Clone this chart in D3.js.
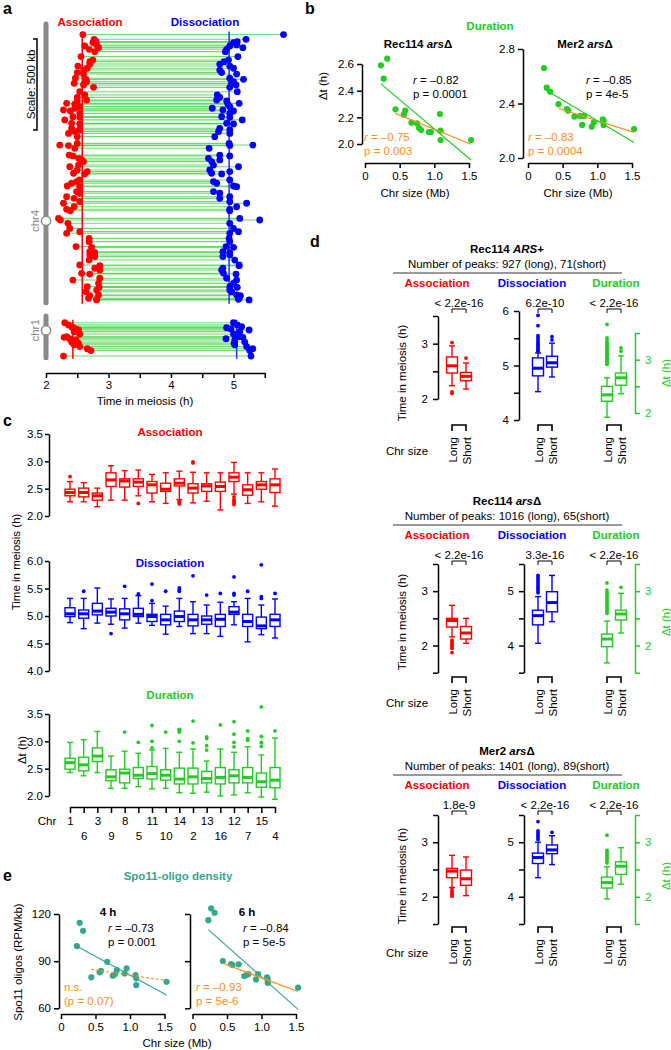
<!DOCTYPE html>
<html>
<head>
<meta charset="utf-8">
<script src="https://cdn.jsdelivr.net/npm/d3@7"></script>
<style>
  body { margin: 0; background: #fff; }
  svg { display: block; }
</style>
</head>
<body>
<script>
const FONT = "'Liberation Sans', Arial, sans-serif"
const RED = '#ff0000', BLUE = '#0000ff', GREEN = '#22cc22', ORANGE = '#ff8c1a', TEAL = '#35a68f', GRAY = '#888'

// ---- panel a: peaks [kb from top of drawn chromosome, association (h), dissociation (h)]
const chr4Peaks = [
  [58,2.59,5.80],[84,2.77,5.20],[97,2.80,5.06],[102,2.75,5.00],[115,2.81,5.05],[121,2.62,4.94],[130,2.84,5.15],
  [139,2.69,4.89],[152,2.78,4.87],[179,2.56,5.07],[198,2.75,4.92],[207,2.70,4.85],[220,2.70,4.78],[231,2.51,4.94],
  [243,2.66,5.00],[253,2.60,4.78],[267,2.50,4.81],[275,2.60,5.05],[298,2.47,4.94],[304,2.64,5.16],[317,2.65,5.00],
  [326,2.45,4.97],[335,2.60,5.04],[348,2.76,4.94],[372,2.54,5.06],[390,2.62,4.74],[403,2.50,4.78],[418,2.65,4.73],
  [423,2.50,4.89],[436,2.33,5.09],[441,2.46,4.91],[454,2.54,4.94],[463,2.46,4.66],[472,2.28,4.83],[478,2.39,5.00],
  [491,2.54,4.94],[509,2.43,4.81],[513,2.54,4.94],[527,2.30,5.14],[546,2.41,4.89],[549,2.54,5.00],[573,2.41,4.78],
  [582,2.53,4.94],[591,2.46,4.76],[601,2.36,4.94],[619,2.50,4.70],[656,2.50,4.93],[665,2.22,5.31],[668,2.36,4.94],
  [683,2.46,4.61],[720,2.37,4.78],[725,2.43,4.94],[738,2.52,4.60],[747,2.57,4.78],[756,2.60,4.65],[775,2.52,4.68],
  [784,2.38,5.08],[802,2.50,4.62],[811,2.66,4.94],[820,2.44,4.65],[824,2.62,4.81],[857,2.54,4.94],[866,2.49,4.68],
  [875,2.41,4.73],[890,2.34,5.00],[894,2.54,5.05],[921,2.49,4.68],[930,2.54,4.78],[949,2.33,4.94],[958,2.45,4.78],
  [976,2.54,4.94],[985,2.28,5.21],[1004,2.45,5.05],[1018,2.33,4.94],[1026,2.39,4.94],[1068,2.20,5.10],[1077,2.23,5.42],
  [1095,2.35,4.94],[1123,2.38,5.00],[1141,2.54,5.08],[1150,2.33,4.94],[1178,2.69,4.93],[1196,2.69,4.94],[1223,2.48,4.88],
  [1227,2.73,5.00],[1251,2.70,4.83],[1256,2.78,4.94],[1269,2.70,4.94],[1278,2.78,4.83],[1297,2.69,5.02],[1324,2.54,5.09],
  [1328,2.86,5.09],[1342,2.78,4.83],[1352,2.86,4.81],[1370,2.57,4.84],[1374,2.70,5.04],[1397,2.86,4.89],[1407,2.43,5.05],
  [1425,2.84,5.00],[1443,2.66,4.94],[1447,2.85,5.06],[1462,2.81,4.94],[1471,2.64,4.97],[1489,2.84,5.05],[1493,2.70,5.11],
  [1507,2.68,5.09],[1513,2.81,5.08],[1516,2.81,5.25]
]
const chr1Peaks = [
  [37,2.30,5.00],[49,2.36,5.06],[59,2.41,5.13],[64,2.43,4.89],[71,2.48,4.96],[77,2.52,5.25],[86,2.45,5.10],
  [99,2.54,5.00],[114,2.33,5.08],[117,2.29,5.15],[125,2.38,4.88],[132,2.48,5.02],[143,2.41,5.18],[150,2.52,5.01],
  [158,2.45,5.02],[168,2.54,5.21],[180,2.66,5.31],[190,2.72,5.26],[220,2.28,5.28]
]
const chrLenKb = { chr4: 1531, chr1: 230 }
const chrCenKb = { chr4: 1082, chr1: 79 }
const chrMedians = { chr4: [2.58, 4.93], chr1: [2.43, 5.05] }
const aTicks = [2, 2.5, 3, 3.5, 4, 4.5, 5, 5.5]

// ---- chromosomes ordered by size
const chrNames = ['1','6','3','9','8','5','11','10','14','2','13','16','12','7','15','4']
const chrSizeMb = [0.23,0.27,0.32,0.44,0.56,0.58,0.67,0.75,0.78,0.81,0.92,0.95,1.08,1.09,1.09,1.53]

// ---- panel b: duration (h) per chromosome
const durRec114 = [2.59,2.49,2.64,2.26,2.22,2.25,2.16,2.155,2.12,2.105,2.09,2.09,2.225,2.10,2.03,2.03]
const durMer2 = [2.66,2.517,2.487,2.395,2.358,2.348,2.304,2.309,2.243,2.309,2.23,2.262,2.284,2.274,2.243,2.213]
// fits [slope, intercept]: all chromosomes / excluding the 3 smallest
const fitRec114All = [-0.439, 2.552], fitRec114Big = [-0.212, 2.323]
const fitMer2All = [-0.302, 2.576], fitMer2Big = [-0.161, 2.434]

// ---- panel c: [lower whisker, q1, median, q3, upper whisker] per chromosome
const assocStats = [
  [2.26,2.37,2.43,2.49,2.63],[2.26,2.35,2.43,2.51,2.61],[2.17,2.29,2.37,2.42,2.51],[2.29,2.54,2.66,2.79,2.92],
  [2.29,2.53,2.64,2.68,2.83],[2.37,2.54,2.62,2.68,2.84],[2.26,2.42,2.57,2.63,2.76],[2.23,2.45,2.49,2.60,2.79],
  [2.30,2.55,2.60,2.68,2.82],[2.24,2.42,2.51,2.59,2.80],[2.27,2.45,2.55,2.59,2.79],[2.11,2.45,2.54,2.62,2.79],
  [2.40,2.63,2.71,2.79,2.98],[2.23,2.38,2.48,2.57,2.79],[2.26,2.49,2.57,2.63,2.79],[2.18,2.43,2.57,2.68,2.86]
]
const assocOut = [[2.72],[],[],[],[],[2.23],[],[],[2.25,2.22,2.27],[2.99,2.97],[],[],[2.35,2.30,2.27,2.24,2.21],[],[],[]]
const dissocStats = [
  [4.88,4.99,5.04,5.15,5.32],[4.77,4.96,5.04,5.11,5.32],[4.87,5.02,5.09,5.23,5.51],[4.85,5.00,5.07,5.14,5.31],
  [4.78,4.93,5.04,5.13,5.32],[4.87,4.99,5.03,5.14,5.37],[4.83,4.90,4.99,5.03,5.23],[4.67,4.84,4.93,5.03,5.18],
  [4.81,4.90,4.99,5.09,5.32],[4.68,4.82,4.93,5.03,5.26],[4.68,4.85,4.93,5.00,5.20],[4.63,4.81,4.94,5.03,5.25],
  [4.84,5.03,5.07,5.17,5.26],[4.53,4.81,4.90,5.03,5.32],[4.66,4.77,4.82,4.98,5.20],[4.60,4.81,4.93,5.03,5.31]
]
const dissocOut = [[],[5.45],[],[4.68],[5.54],[5.40],[5.58,5.28],[5.45],[5.51,5.48,5.45],[5.73],[5.38],[5.41],
  [5.71,5.41,5.38],[5.45],[5.93,5.35,5.32],[5.41]]
const durStats = [
  [2.43,2.49,2.61,2.69,2.98],[2.37,2.46,2.57,2.71,3.03],[2.43,2.63,2.73,2.88,3.18],[2.14,2.28,2.35,2.48,2.73],
  [2.14,2.24,2.42,2.49,2.82],[2.17,2.32,2.38,2.52,2.78],[2.13,2.31,2.41,2.54,2.84],[2.14,2.29,2.38,2.48,2.87],
  [2.06,2.22,2.31,2.51,2.80],[2.05,2.22,2.35,2.51,2.86],[2.07,2.24,2.32,2.45,2.64],[2.00,2.22,2.34,2.52,2.86],
  [2.02,2.24,2.37,2.48,2.80],[2.06,2.24,2.34,2.52,2.90],[1.98,2.16,2.26,2.42,2.75],[1.94,2.15,2.29,2.52,3.06]
]
const durOut = [[],[],[],[],[3.17],[2.98],[3.29,3.00,2.88],[3.17],[3.22,3.20,3.17,3.00],[3.37,2.97],
  [3.08,3.05,2.92,2.84],[3.30],[3.36,3.13,2.98,2.90],[3.19,3.05,3.02],[3.63,3.09,2.98,2.91],[3.19]]
const cTicksTime = [2.0, 2.5, 3.0, 3.5], cTicksDiss = [4.0, 4.5, 5.0, 5.5, 6.0]

// ---- panel d: per strain, per measure, [Long, Short] stats and outliers
const dTitles = [
  [['Rec114 '], ['ARS', 1], ['+']],
  [['Rec114 '], ['ars', 1], ['Δ']],
  [['Mer2 '], ['ars', 1], ['Δ']]
]
const dPeaks = [[927, 71], [1016, 65], [1401, 89]]
const dPvalues = [
  ['< 2.2e-16', '6.2e-10', '< 2.2e-16'],
  ['< 2.2e-16', '3.3e-16', '< 2.2e-16'],
  ['1.8e-9', '< 2.2e-16', '< 2.2e-16']
]
const dStats = [
  [[[2.24,2.47,2.60,2.76,2.96],[2.18,2.33,2.41,2.48,2.65]],
   [[4.52,4.81,4.95,5.14,5.23],[4.79,4.97,5.05,5.17,5.41]],
   [[1.92,2.22,2.34,2.50,2.66],[2.36,2.52,2.66,2.75,3.07]]],
  [[[2.16,2.34,2.46,2.50,2.74],[2.04,2.12,2.23,2.35,2.50]],
   [[4.04,4.38,4.55,4.65,4.90],[4.44,4.62,4.79,4.99,5.29]],
   [[1.68,1.98,2.12,2.21,2.45],[2.23,2.47,2.58,2.65,2.96]]],
  [[[2.17,2.35,2.47,2.52,2.76],[2.02,2.21,2.33,2.49,2.73]],
   [[4.35,4.61,4.72,4.80,5.00],[4.59,4.79,4.86,4.95,5.12]],
   [[1.96,2.16,2.26,2.36,2.55],[2.23,2.41,2.56,2.64,2.90]]]
]
const dOut = [
  [[[3.02,2.10,2.13],[2.74]],
   [[5.92,5.73,5.55,5.51,5.47,5.43,5.40,5.37,5.34,5.31,5.28,5.26],[5.53,5.47]],
   [[3.66,3.41,3.37,3.33,3.30,3.27,3.24,3.21,3.18,3.15,3.12,3.09,3.06,3.03,3.00,2.97,2.94,2.91],[3.22,3.16]]],
  [[[2.10,2.07,2.04,2.01,1.98,1.95,1.87],[]],
   [[5.29,5.25,5.21,5.17,5.13,5.09,5.05,5.01,4.97],[]],
   [[3.15,3.02,2.98,2.94,2.90,2.86,2.82,2.78,2.74,2.70,2.66,2.62,2.59],[3.07]]],
  [[[2.14,2.10,2.07,2.04,2.01],[]],
   [[5.38,5.21,5.17,5.13,5.09,5.05],[5.18]],
   [[3.13,2.85,2.82,2.78,2.74,2.70,2.66,2.62],[]]]
]
const dDomains = [
  [[2, 3.5], [4, 6], [2, 3.5]],
  [[1.5, 3.5], [3.5, 5.5], [1.5, 3.5]],
  [[1.5, 3.5], [3.5, 5.5], [1.5, 3.5]]
]
const dTicks = [
  [[2, 2.5, 3, 3.5], [4, 4.5, 5, 5.5, 6], [2, 2.5, 3, 3.5]],
  [[1.5, 2, 2.5, 3, 3.5], [3.5, 4, 4.5, 5, 5.5], [1.5, 2, 2.5, 3, 3.5]],
  [[1.5, 2, 2.5, 3, 3.5], [3.5, 4, 4.5, 5, 5.5], [1.5, 2, 2.5, 3, 3.5]]
]

// ---- panel e: Spo11-oligo density (RPM/kb)
const oligo4h = [99.6,114.4,109.3,79.7,82.9,83.9,89.6,80.7,81.6,84.3,82.2,85.4,81.2,79.1,74.8,76.9]
const oligo6h = [116.1,123.6,120.8,90.1,88.2,87.5,88.0,80.5,81.2,81.8,78.4,81.8,79.7,78.4,76.3,73.1]
const fit4hAll = [-23.8, 104.9], fit4hBig = [-6.6, 87.7]
const fit6hAll = [-39.0, 119.0], fit6hBig = [-16.5, 95.9]

// ---------------------------------------------------------------------------
const svg = d3.select('body').append('svg').attr('width', 671).attr('height', 1050)
  .attr('font-family', FONT)

function txt(g, x, y, s, o = {}) {
  const t = g.append('text').attr('x', x).attr('y', y)
    .attr('font-family', FONT).attr('font-size', o.size || 11.5)
    .attr('text-anchor', o.anchor || 'middle').attr('fill', o.color || '#000')
  if (o.bold) t.attr('font-weight', 'bold')
  if (o.rot) t.attr('transform', `rotate(-90,${x},${y})`)
  const parts = Array.isArray(s) ? s : [[s]]
  parts.forEach(([str, it]) => {
    const sp = t.append('tspan').text(str)
    if (it) sp.attr('font-style', 'italic')
  })
  return t
}
function styleAxis(g, color = '#000', w = 1.5) {
  g.attr('font-family', FONT).attr('font-size', 11.5)
  g.select('.domain').attr('stroke', color).attr('stroke-width', w)
  g.selectAll('.tick line').attr('stroke', color).attr('stroke-width', w)
  g.selectAll('.tick text').attr('fill', color)
}
function line(g, x1, y1, x2, y2, color, w) {
  return g.append('line').attr('x1', x1).attr('y1', y1).attr('x2', x2).attr('y2', y2)
    .attr('stroke', color).attr('stroke-width', w)
}
function drawBox(g, x, y, s, out, color, w, cap) {
  const [lo, q1, med, q3, hi] = s
  const sw = 1.4
  line(g, x, y(hi), x, y(q3), color, sw)
  line(g, x, y(q1), x, y(lo), color, sw)
  line(g, x - cap / 2, y(hi), x + cap / 2, y(hi), color, sw)
  line(g, x - cap / 2, y(lo), x + cap / 2, y(lo), color, sw)
  g.append('rect').attr('x', x - w / 2).attr('y', y(q3)).attr('width', w).attr('height', y(q1) - y(q3))
    .attr('fill', '#fff').attr('stroke', color).attr('stroke-width', sw)
  line(g, x - w / 2, y(med), x + w / 2, y(med), color, 3)
  g.append('g').selectAll('circle').data(out).join('circle')
    .attr('cx', x).attr('cy', d => y(d)).attr('r', 1.9).attr('fill', color)
}
const intInt = d => Number.isInteger(d) ? d : ''

// panel letters
txt(svg, 3, 14, 'a', { bold: 1, size: 16, anchor: 'start' })
txt(svg, 305, 14, 'b', { bold: 1, size: 16, anchor: 'start' })
txt(svg, 3, 426, 'c', { bold: 1, size: 16, anchor: 'start' })
txt(svg, 310, 247, 'd', { bold: 1, size: 16, anchor: 'start' })
txt(svg, 3, 881, 'e', { bold: 1, size: 16, anchor: 'start' })

// ============================ panel a ============================
{
  const g = svg.append('g')
  const xA = d3.scaleLinear().domain([2, 5.5]).range([46, 264.75])
  const kbPx = 91 / 500
  const barX = 46
  const chrs = [
    { name: 'chr4', peaks: chr4Peaks, top: 24 },
    { name: 'chr1', peaks: chr1Peaks, top: 316 }
  ]
  chrs.forEach(c => {
    const len = chrLenKb[c.name]
    const y = d3.scaleLinear().domain([0, len]).range([c.top, c.top + len * kbPx])
    g.append('line').attr('x1', barX).attr('x2', barX).attr('y1', y(0)).attr('y2', y(len))
      .attr('stroke', GRAY).attr('stroke-width', 5).attr('stroke-linecap', 'round')
    g.append('circle').attr('cx', barX).attr('cy', y(chrCenKb[c.name])).attr('r', 4.6)
      .attr('fill', '#fff').attr('stroke', GRAY).attr('stroke-width', 1.5)
    txt(g, 39, y(chrCenKb[c.name]), c.name, { rot: 1, color: GRAY, size: 11.5 })

    g.append('g').selectAll('line').data(c.peaks).join('line')
      .attr('x1', d => xA(d[1])).attr('x2', d => xA(d[2]))
      .attr('y1', d => y(d[0])).attr('y2', d => y(d[0]))
      .attr('stroke', '#2fcc2f').attr('stroke-opacity', 0.7).attr('stroke-width', 1.1)

    const [mA, mD] = chrMedians[c.name]
    const yTop = y(c.peaks[0][0]) - 3, yBot = y(len) + 1
    line(g, xA(mA), yTop, xA(mA), yBot, RED, 1.5)
    line(g, xA(mD), yTop, xA(mD), yBot, '#2a2aff', 1.5)

    g.append('g').selectAll('circle').data(c.peaks).join('circle')
      .attr('cx', d => xA(d[1])).attr('cy', d => y(d[0])).attr('r', 3.4).attr('fill', RED)
    g.append('g').selectAll('circle').data(c.peaks).join('circle')
      .attr('cx', d => xA(d[2])).attr('cy', d => y(d[0])).attr('r', 3.4).attr('fill', BLUE)
  })
  // scale bar (500 kb)
  const sb0 = 39, sb1 = 39 + 500 * kbPx
  g.append('path').attr('d', `M33,${sb0}H37V${sb1}H33`).attr('fill', 'none').attr('stroke', '#000').attr('stroke-width', 1.5)
  txt(g, 35, (sb0 + sb1) / 2, 'Scale: 500 kb', { rot: 1 })

  txt(g, 90, 26, 'Association', { bold: 1, color: RED })
  txt(g, 205, 26, 'Dissociation', { bold: 1, color: BLUE })

  g.append('g').attr('transform', 'translate(0,373)')
    .call(d3.axisBottom(xA).tickValues(aTicks).tickFormat(intInt).tickSize(5).tickSizeOuter(0).tickPadding(3))
    .call(styleAxis)
  txt(g, 145, 405, 'Time in meiosis (h)')
}

// ============================ panel b ============================
{
  const g = svg.append('g')
  txt(g, 490, 30, 'Duration', { bold: 1, color: GREEN })
  const panels = [
    { title: [['Rec114 '], ['ars', 1], ['Δ']], vals: durRec114, fa: fitRec114All, fb: fitRec114Big,
      xr: [365, 469], yd: [2.0, 2.6], yr: [144, 64], yt: [2.0, 2.2, 2.4, 2.6], ax: 362, tc: 418,
      rTxt: ['–0.82', '0.0001'], oTxt: ['–0.75', '0.003'], rx: 413, ox: 364 },
    { title: [['Mer2 '], ['ars', 1], ['Δ']], vals: durMer2, fa: fitMer2All, fb: fitMer2Big,
      xr: [528, 632], yd: [2.0, 2.8], yr: [158, 49], yt: [2.0, 2.4, 2.8], ax: 523, tc: 585,
      rTxt: ['–0.85', '4e-5'], oTxt: ['–0.83', '0.0004'], rx: 586, ox: 528 }
  ]
  panels.forEach(p => {
    const x = d3.scaleLinear().domain([0, 1.5]).range(p.xr)
    const y = d3.scaleLinear().domain(p.yd).range(p.yr)
    g.append('g').attr('transform', `translate(${p.ax},0)`)
      .call(d3.axisLeft(y).tickValues(p.yt).tickFormat(d3.format('.1f')).tickSize(5).tickSizeOuter(0).tickPadding(3))
      .call(styleAxis)
    g.append('g').attr('transform', 'translate(0,163)')
      .call(d3.axisBottom(x).tickValues([0, 0.5, 1.0, 1.5]).tickFormat(d => d === 0 ? '0' : d3.format('.1f')(d))
        .tickSize(5).tickSizeOuter(0).tickPadding(4))
      .call(styleAxis)
    txt(g, p.tc, 48, p.title, { bold: 1 })
    txt(g, (p.xr[0] + p.xr[1]) / 2 - 2, 197, 'Chr size (Mb)')

    const pts = chrSizeMb.map((m, i) => [m, p.vals[i]])
    const big = chrSizeMb.filter((m, i) => i >= 3)
    const fitLine = (f, xs, color) => {
      const [a, b] = d3.extent(xs)
      line(g, x(a), y(f[0] * a + f[1]), x(b), y(f[0] * b + f[1]), color, 1.2)
    }
    g.append('g').selectAll('circle').data(pts).join('circle')
      .attr('cx', d => x(d[0])).attr('cy', d => y(d[1])).attr('r', 3.1).attr('fill', GREEN)
    fitLine(p.fb, big, ORANGE)
    fitLine(p.fa, chrSizeMb, GREEN)

    txt(g, p.rx, 84, [['r', 1], [' = ' + p.rTxt[0]]], { anchor: 'start' })
    txt(g, p.rx, 98, 'p = ' + p.rTxt[1], { anchor: 'start' })
    txt(g, p.ox, 141, [['r', 1], [' = ' + p.oTxt[0]]], { anchor: 'start', color: ORANGE })
    txt(g, p.ox, 155, 'p = ' + p.oTxt[1], { anchor: 'start', color: ORANGE })
  })
  txt(g, 327, 86, 'Δt (h)', { rot: 1 })
}

// ============================ panel c ============================
{
  const g = svg.append('g')
  const x = d3.scalePoint().domain(chrNames).range([70, 275])
  const subs = [
    { title: 'Association', color: RED, d: [2, 3.5], r: [516, 434], t: cTicksTime, s: assocStats, o: assocOut, ty: 436 },
    { title: 'Dissociation', color: BLUE, d: [4, 6], r: [671, 561], t: cTicksDiss, s: dissocStats, o: dissocOut, ty: 567 },
    { title: 'Duration', color: GREEN, d: [2, 3.5], r: [796, 714], t: cTicksTime, s: durStats, o: durOut, ty: 699 }
  ]
  subs.forEach(sp => {
    const y = d3.scaleLinear().domain(sp.d).range(sp.r)
    g.append('g').attr('transform', 'translate(49,0)')
      .call(d3.axisLeft(y).tickValues(sp.t).tickFormat(d3.format('.1f')).tickSize(4).tickSizeOuter(0).tickPadding(2))
      .call(styleAxis)
    txt(g, 170, sp.ty, sp.title, { bold: 1, color: sp.color })
    chrNames.forEach((c, i) => drawBox(g, x(c), y, sp.s[i], sp.o[i], sp.color, 10, 6))
  })
  const xa = g.append('g').attr('transform', 'translate(0,807)')
    .call(d3.axisBottom(x).tickSize(6).tickSizeOuter(0))
    .call(styleAxis)
  xa.selectAll('.tick text').attr('y', (d, i) => i % 2 ? 25 : 10)
  txt(g, 47, 825, 'Chr')
  txt(g, 20, 562, 'Time in meiosis (h)', { rot: 1 })
  txt(g, 26, 750, 'Δt (h)', { rot: 1 })
}

// ============================ panel d ============================
{
  const g = svg.append('g')
  const offs = [0, 252, 502]
  const ranges = [
    [[399, 316], [420, 311], [413, 333]],
    [[672.7, 564], [672.7, 564], [672.7, 564]],
    [[924, 815], [924, 815], [924, 815]]
  ]
  const groups = [
    { name: 'Association', color: RED, cx: [452, 466], tx: 437 },
    { name: 'Dissociation', color: BLUE, cx: [538, 552], tx: 532 },
    { name: 'Duration', color: GREEN, cx: [607, 621], tx: 616 }
  ]
  const axX = [[438, 519, 635], [438, 524, 635], [438, 524, 635]]
  const yLabY = [373, 622, 876]
  dTitles.forEach((title, b) => {
    const o = offs[b]
    txt(g, 507, 253 + o, title, { bold: 1 })
    txt(g, 507, 268 + o, `Number of peaks: ${dPeaks[b][0]} (long), ${dPeaks[b][1]}(short)`)
    line(g, 393, 273 + o, 622, 273 + o, '#777', 1.5)
    groups.forEach((grp, k) => {
      txt(g, grp.tx, 287 + o, grp.name, { bold: 1, color: grp.color })
      const y = d3.scaleLinear().domain(dDomains[b][k]).range(ranges[b][k])
      const right = k === 2
      const axisFn = right ? d3.axisRight(y) : d3.axisLeft(y)
      g.append('g').attr('transform', `translate(${axX[b][k]},0)`)
        .call(axisFn.tickValues(dTicks[b][k]).tickFormat(intInt).tickSize(5).tickSizeOuter(0).tickPadding(5))
        .call(gg => styleAxis(gg, right ? GREEN : '#000'))
      const [cl, cs] = grp.cx
      drawBox(g, cl, y, dStats[b][k][0], dOut[b][k][0], grp.color, 11, 6)
      drawBox(g, cs, y, dStats[b][k][1], dOut[b][k][1], grp.color, 11, 6)
      // p-value bracket
      const pb = 309 + o
      txt(g, (cl + cs) / 2, 307 + o, dPvalues[b][k])
      g.append('path').attr('d', `M${cl},${pb + 4}V${pb}H${cs}V${pb + 4}`)
        .attr('fill', 'none').attr('stroke', '#000').attr('stroke-width', 1)
      // chr size bracket
      const bb = 425 + o
      g.append('path').attr('d', `M${cl},${bb + 6}V${bb}H${cs}V${bb + 6}`)
        .attr('fill', 'none').attr('stroke', '#000').attr('stroke-width', 1.6)
      txt(g, cl + 4.5, 437 + o, 'Long', { rot: 1, anchor: 'end' })
      txt(g, cs + 4.5, 437 + o, 'Short', { rot: 1, anchor: 'end' })
    })
    txt(g, 407, 455 + o, 'Chr size')
    txt(g, 406, yLabY[b], 'Time in meiosis (h)', { rot: 1 })
    txt(g, 670, yLabY[b], 'Δt (h)', { rot: 1, color: GREEN })
  })
}

// ============================ panel e ============================
{
  const g = svg.append('g')
  txt(g, 178, 880, 'Spo11-oligo density', { bold: 1, color: TEAL })
  const panels = [
    { title: '4 h', vals: oligo4h, fa: fit4hAll, fb: fit4hBig, xr: [61, 164.5], ax: 59, tc: 108, dash: '3,2',
      rTxt: ['r', ' = –0.73', 'p = 0.001'], oTxt: [['n.s.'], ['(p = 0.07)']], rx: 108, ox: 64, labels: true },
    { title: '6 h', vals: oligo6h, fa: fit6hAll, fb: fit6hBig, xr: [192.5, 296], ax: 190, tc: 247, dash: null,
      rTxt: ['r', ' = –0.84', 'p = 5e-5'], oTxt: [[['r', 1], [' = –0.93']], ['p = 5e-6']], rx: 243, ox: 196 }
  ]
  panels.forEach(p => {
    const x = d3.scaleLinear().domain([0, 1.5]).range(p.xr)
    const y = d3.scaleLinear().domain([60, 120]).range([1008.3, 914])
    g.append('g').attr('transform', `translate(${p.ax},0)`)
      .call(d3.axisLeft(y).tickValues([60, 90, 120]).tickFormat(p.labels ? d => d : () => '')
        .tickSize(5).tickSizeOuter(0).tickPadding(3))
      .call(styleAxis)
    g.append('g').attr('transform', 'translate(0,1014)')
      .call(d3.axisBottom(x).tickValues([0, 0.5, 1.0, 1.5]).tickFormat(d => d === 0 ? '0' : d3.format('.1f')(d))
        .tickSize(5).tickSizeOuter(0).tickPadding(4))
      .call(styleAxis)
    txt(g, p.tc, 916, p.title, { bold: 1 })
    const pts = chrSizeMb.map((m, i) => [m, p.vals[i]])
    const big = chrSizeMb.filter((m, i) => i >= 3)
    const fitLine = (f, xs, color, dash) => {
      const [a, b] = d3.extent(xs)
      const l = line(g, x(a), y(f[0] * a + f[1]), x(b), y(f[0] * b + f[1]), color, 1.2)
      if (dash) l.attr('stroke-dasharray', dash)
    }
    g.append('g').selectAll('circle').data(pts).join('circle')
      .attr('cx', d => x(d[0])).attr('cy', d => y(d[1])).attr('r', 3.1).attr('fill', TEAL)
    fitLine(p.fa, chrSizeMb, TEAL)
    fitLine(p.fb, big, ORANGE, p.dash)
    txt(g, p.rx, 932, [[p.rTxt[0], 1], [p.rTxt[1]]], { anchor: 'start' })
    txt(g, p.rx, 946, p.rTxt[2], { anchor: 'start' })
    txt(g, p.ox, 991, p.oTxt[0].length === 1 ? p.oTxt[0][0] : p.oTxt[0], { anchor: 'start', color: ORANGE })
    txt(g, p.ox, 1005, p.oTxt[1][0], { anchor: 'start', color: ORANGE })
  })
  txt(g, 22, 962, 'Spo11 oligos (RPM/kb)', { rot: 1 })
  txt(g, 177, 1047, 'Chr size (Mb)')
}
</script>
</body>
</html>
